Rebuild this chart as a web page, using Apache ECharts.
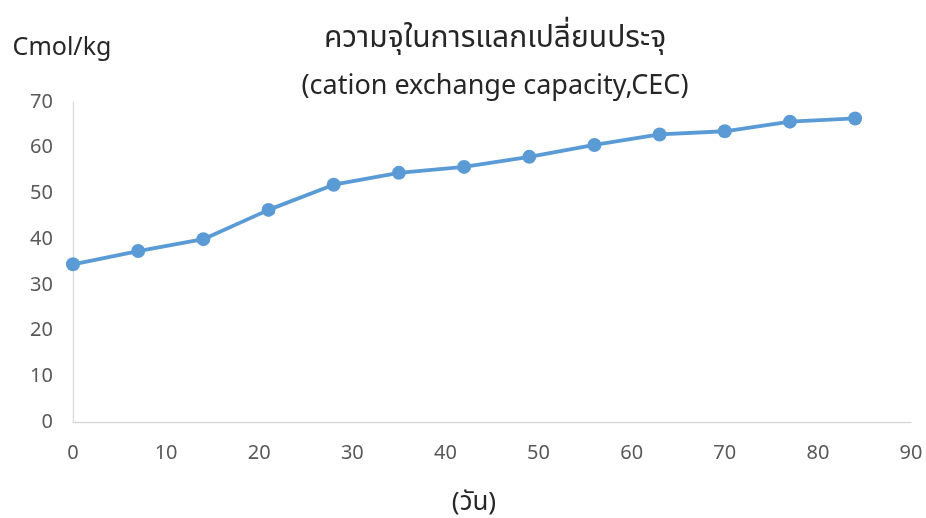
<!DOCTYPE html>
<html>
<head>
<meta charset="utf-8">
<script src="https://cdn.jsdelivr.net/npm/echarts@6/dist/echarts.min.js"></script>
<style>
  html, body { margin: 0; padding: 0; background: #fff; }
  #chart { width: 926px; height: 518px; }
</style>
</head>
<body>
<div id="chart"></div>
<script>
// Days of incubation and measured cation exchange capacity (Cmol/kg)
const days = [0, 7, 14, 21, 28, 35, 42, 49, 56, 63, 70, 77, 84];
const cec = [34.5, 37.4, 40.0, 46.4, 51.9, 54.5, 55.8, 58.0, 60.6, 62.9, 63.6, 65.7, 66.4];

const xTicks = { min: 0, max: 90, interval: 10 };
const yTicks = { min: 0, max: 70, interval: 10 };

const titleThai = 'ความจุในการแลกเปลี่ยนประจุ';
const titleEng = '(cation exchange capacity,CEC)';
const yName = 'Cmol/kg';
const xName = '(วัน)';

const font = '"Noto Sans", "Noto Sans Thai", "DejaVu Sans", sans-serif';

const chart = echarts.init(document.getElementById('chart'));
chart.setOption({
  backgroundColor: '#ffffff',
  animation: false,
  title: {
    text: '{th|' + titleThai + '}\n{en|' + titleEng + '}',
    left: 490,
    top: 8,
    textAlign: 'center',
    textStyle: {
      fontFamily: font,
      fontWeight: 'normal',
      color: '#262626',
      rich: {
        th: { fontFamily: font, fontSize: 30, color: '#262626', lineHeight: 50 },
        en: { fontFamily: font, fontSize: 27, color: '#262626', lineHeight: 46 }
      }
    }
  },
  grid: {
    left: 73, right: 15, top: 102, bottom: 96,
    containLabel: false,
    outerBoundsMode: 'none'
  },
  xAxis: {
    type: 'value',
    min: xTicks.min, max: xTicks.max, interval: xTicks.interval,
    name: xName,
    nameLocation: 'middle',
    nameGap: 68,
    nameTextStyle: { fontFamily: font, fontSize: 26, color: '#262626', padding: [0, 36, 0, 0] },
    axisLine: { show: true, lineStyle: { color: '#d9d9d9', width: 1.3 } },
    axisTick: { show: false },
    splitLine: { show: false },
    axisLabel: { fontFamily: font, fontSize: 20, color: '#595959', margin: 21 }
  },
  yAxis: {
    type: 'value',
    min: yTicks.min, max: yTicks.max, interval: yTicks.interval,
    name: yName,
    nameLocation: 'end',
    nameGap: 42,
    nameTextStyle: { fontFamily: font, fontSize: 25, color: '#262626', padding: [0, 22, 0, 0] },
    axisLine: { show: true, lineStyle: { color: '#d9d9d9', width: 1.3 } },
    axisTick: { show: false },
    splitLine: { show: false },
    axisLabel: { fontFamily: font, fontSize: 20, color: '#595959', margin: 20 }
  },
  series: [{
    type: 'line',
    data: days.map((d, i) => [d, cec[i]]),
    symbol: 'circle',
    symbolSize: 14,
    lineStyle: { color: '#5b9bd5', width: 3.8 },
    itemStyle: { color: '#5b9bd5' }
  }]
});
</script>
</body>
</html>
